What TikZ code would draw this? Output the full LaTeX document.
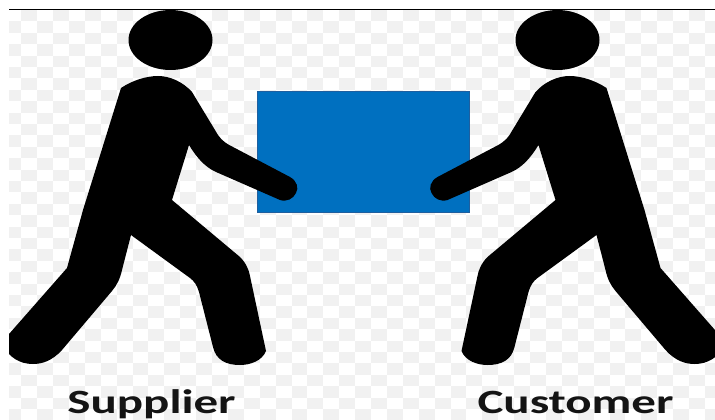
\documentclass[tikz,border=0pt]{standalone}
\usepackage{fontspec}
\usetikzlibrary{shapes.geometric}
\setmainfont{Carlito}
\definecolor{chk}{HTML}{F1F1F1}
\definecolor{boxblue}{HTML}{0070C0}
\definecolor{boxedge}{HTML}{1F5F9F}
\newcommand{\figurepath}{
  (121,88) .. controls (133,80) and (147,76) .. (158,76)
  .. controls (170,76) and (183,82) .. (192,92)
  -- (218,135) .. controls (222,141) and (227,144) .. (233,147)
  -- (290,177) .. controls (297,181) and (299,188) .. (296,193)
  .. controls (293,199) and (287,202) .. (280,200)
  -- (216,172) .. controls (205,167) and (197,158) .. (189,145)
  -- (172,200)
  -- (240,257) .. controls (246,263) and (249,270) .. (250,276)
  -- (266,351) .. controls (262,361) and (250,365) .. (240,365)
  .. controls (226,365) and (216,360) .. (213,347)
  -- (199,292) .. controls (197,285) and (194,281) .. (190,278)
  -- (131,235) -- (122,270) .. controls (120,279) and (117,285) .. (112,291)
  -- (62,350) .. controls (52,361) and (42,364) .. (33,364)
  .. controls (20,364) and (10,358) .. (2,345)
  -- (2,342) -- (67,268) -- (83,210) -- cycle}
\begin{document}
\begin{tikzpicture}[x=1pt,y=-1pt,
  headshape/.style={ellipse,fill=black,minimum width=84pt,minimum height=60pt,inner sep=0pt},
  labeltext/.style={font=\bfseries\fontsize{34}{34}\selectfont,anchor=base,xscale=1.44,inner sep=0pt,text=black!92}]
\useasboundingbox (0,0) rectangle (715,420);
\fill[white] (0,0) rectangle (715,420);
\begin{scope}
\clip (9,10) rectangle (715,420);
\foreach \r in {0,...,36}{
  \foreach \c in {0,...,45}{
    \pgfmathparse{int(mod(\r+\c,2))}
    \ifnum\pgfmathresult=1
      \fill[chk] ({5.3+15.9*\c},{10+11.4*\r}) rectangle ++(15.9,11.4);
    \fi
  }
}
\end{scope}
\draw[black,line width=1pt] (9,9.5) -- (715,9.5);
\node[draw=boxedge,line width=0.8pt,fill=boxblue,minimum width=212pt,minimum height=121pt,inner sep=0pt,anchor=north west] (box) at (257,91) {};
\begin{scope}
\clip (9,0) rectangle (715,420);
\fill[black] \figurepath;
\node[headshape] (headL) at (170.5,40) {};
\begin{scope}[xshift=727.5pt,xscale=-1]
\fill[black] \figurepath;
\end{scope}
\node[headshape] (headR) at (557.5,40) {};
\end{scope}
\node[labeltext] (supplier) at (151.5,413) {Supplier};
\node[labeltext] (customer) at (575.5,413) {Customer};
\end{tikzpicture}
\end{document}
